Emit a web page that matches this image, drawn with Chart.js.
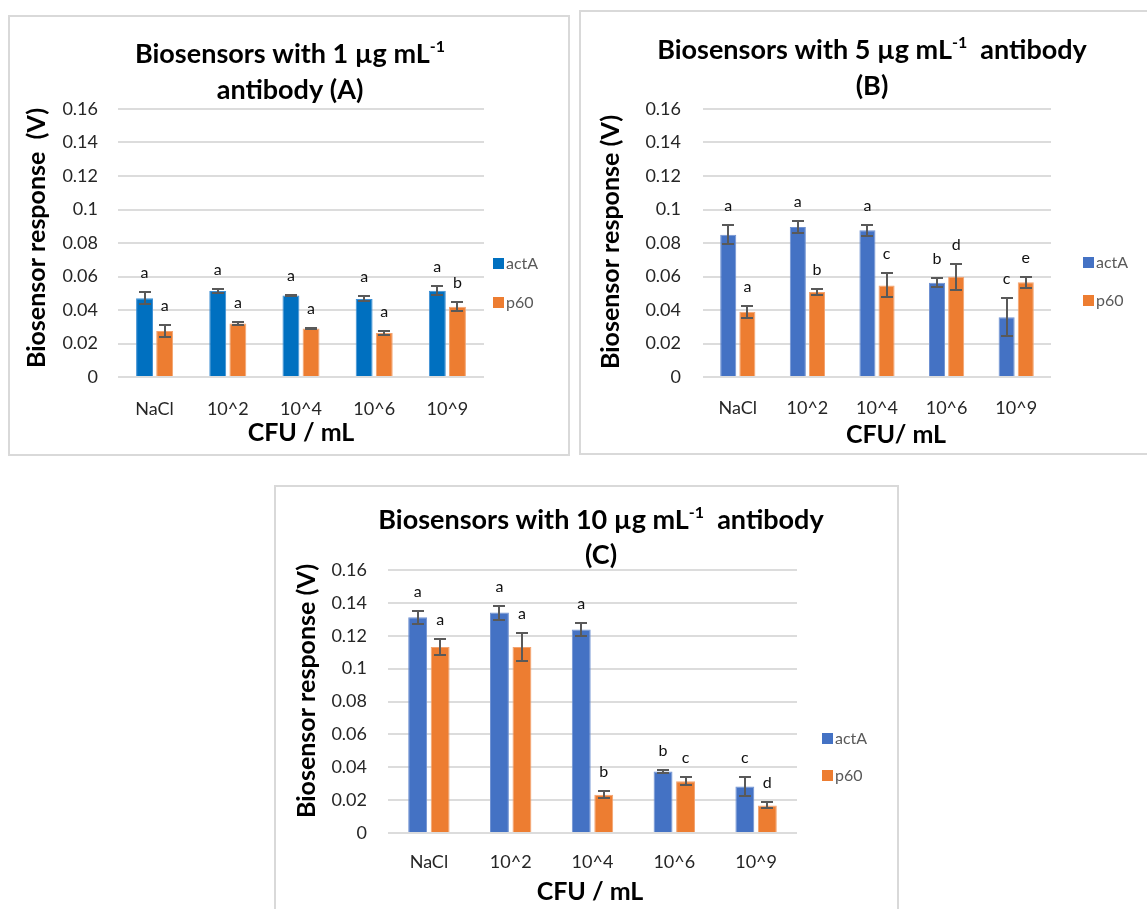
<!DOCTYPE html>
<html><head><meta charset="utf-8">
<script src="https://cdn.jsdelivr.net/npm/chart.js@4.4.0/dist/chart.umd.min.js"></script>
<style>
html,body{margin:0;padding:0;background:#fff;width:1147px;height:909px;overflow:hidden;position:relative}
.box{position:absolute;border:2px solid #d9d9d9;box-sizing:border-box}
canvas{position:absolute}
</style></head><body>
<div class="box" style="left:8px;top:15px;width:562px;height:441px"></div>
<div class="box" style="left:579px;top:10px;width:620px;height:445px"></div>
<div class="box" style="left:274px;top:485px;width:625px;height:440px"></div>
<canvas id="cA" width="558" height="437" style="left:10px;top:17px"></canvas>
<canvas id="cB" width="566" height="442" style="left:581px;top:12px"></canvas>
<canvas id="cC" width="622" height="422" style="left:276px;top:487px"></canvas>
<script>
// ---- data ----
const categories = ['NaCl', '10^2', '10^4', '10^6', '10^9'];
const yTickLabels = ['0', '0.02', '0.04', '0.06', '0.08', '0.1', '0.12', '0.14', '0.16'];
const seriesNames = ['actA', 'p60'];

// (A) 1 µg/mL antibody
const actA_1 = [0.047, 0.0513, 0.0486, 0.0466, 0.0515];
const actA_1_err = [0.0035, 0.001, 0.0005, 0.0015, 0.0027];
const p60_1 = [0.0275, 0.032, 0.029, 0.0263, 0.042];
const p60_1_err = [0.0035, 0.001, 0.0004, 0.0014, 0.0028];
const actA_1_letters = ['a', 'a', 'a', 'a', 'a'];
const p60_1_letters = ['a', 'a', 'a', 'a', 'b'];

// (B) 5 µg/mL antibody
const actA_5 = [0.085, 0.0896, 0.0876, 0.0563, 0.0357];
const actA_5_err = [0.0057, 0.0035, 0.0033, 0.0026, 0.0113];
const p60_5 = [0.0389, 0.0507, 0.0547, 0.0599, 0.0565];
const p60_5_err = [0.0035, 0.002, 0.0072, 0.0077, 0.0035];
const actA_5_letters = ['a', 'a', 'a', 'b', 'c'];
const p60_5_letters = ['a', 'b', 'c', 'd', 'e'];

// (C) 10 µg/mL antibody
const actA_10 = [0.1313, 0.1341, 0.1238, 0.0374, 0.0283];
const actA_10_err = [0.004, 0.0043, 0.004, 0.0012, 0.006];
const p60_10 = [0.1131, 0.1131, 0.0232, 0.0315, 0.0168];
const p60_10_err = [0.0047, 0.0085, 0.0021, 0.0023, 0.0018];
const actA_10_letters = ['a', 'a', 'a', 'b', 'c'];
const p60_10_letters = ['a', 'a', 'b', 'c', 'd'];

// ---- rendering ----
const FONT = 'Lato, "Open Sans", sans-serif';
Chart.defaults.font.family = FONT;

const decor = {
  id: 'decor',
  afterDatasetsDraw(chart) {
    const ctx = chart.ctx, y = chart.scales.y;
    chart.data.datasets.forEach((ds, di) => {
      const meta = chart.getDatasetMeta(di);
      meta.data.forEach((bar, i) => {
        const v = ds.data[i], e = ds.errors[i];
        const top = Math.round(y.getPixelForValue(v + e)), bot = Math.round(y.getPixelForValue(v - e));
        const x = Math.round(bar.x);
        ctx.save();
        ctx.strokeStyle = '#595959'; ctx.lineWidth = 2;
        ctx.beginPath();
        ctx.moveTo(x, top); ctx.lineTo(x, bot);
        ctx.moveTo(x - 6, top); ctx.lineTo(x + 6, top);
        ctx.moveTo(x - 6, bot); ctx.lineTo(x + 6, bot);
        ctx.stroke();
        ctx.fillStyle = '#111'; ctx.font = '16px ' + FONT;
        ctx.textAlign = 'center'; ctx.textBaseline = 'middle';
        ctx.fillText(ds.letters[i], bar.x, top - 19);
        ctx.restore();
      });
    });
  },
  afterDraw(chart) {
    const o = chart.options.plugins.decor, ctx = chart.ctx;
    ctx.save();
    ctx.fillStyle = '#000';
    // title line 1 with superscript
    const big = 'bold ' + o.titleSize + 'px ' + FONT, small = 'bold ' + Math.round(o.titleSize * 0.6) + 'px ' + FONT;
    let total = 0;
    o.title1.forEach(p => { ctx.font = p.sup ? small : big; total += ctx.measureText(p.t).width; });
    let x = o.titleX - total / 2;
    ctx.textAlign = 'left'; ctx.textBaseline = 'alphabetic';
    o.title1.forEach(p => {
      ctx.font = p.sup ? small : big;
      ctx.fillText(p.t, x, o.title1Y - (p.sup ? o.titleSize * 0.4 : 0));
      x += ctx.measureText(p.t).width;
    });
    ctx.font = big; ctx.textAlign = 'center';
    ctx.fillText(o.title2, o.titleX, o.title2Y);
    // axis titles
    ctx.font = 'bold ' + o.axisSize + 'px ' + FONT;
    ctx.textBaseline = 'middle';
    ctx.fillText(o.xTitle, o.xTitlePos[0], o.xTitlePos[1]);
    ctx.save();
    ctx.translate(o.yTitlePos[0], o.yTitlePos[1]);
    ctx.rotate(-Math.PI / 2);
    ctx.fillText(o.yTitle, 0, 0);
    ctx.restore();
    // legend
    ctx.font = '16px ' + FONT; ctx.textAlign = 'left';
    chart.data.datasets.forEach((ds, i) => {
      const [lx, ly] = o.legendPos[i];
      ctx.fillStyle = ds.backgroundColor;
      ctx.fillRect(lx, ly, 11, 11);
      ctx.fillStyle = '#595959';
      ctx.fillText(ds.label, lx + 13, ly + 6);
    });
    ctx.restore();
  }
};

function makeChart(id, blue, blueEdge, a, aErr, aLet, p, pErr, pLet, lay, deco) {
  return new Chart(document.getElementById(id), {
    type: 'bar',
    data: {
      labels: categories,
      datasets: [
        { label: seriesNames[0], data: a, errors: aErr, letters: aLet, backgroundColor: blue, borderColor: blueEdge, borderWidth: 1,
          categoryPercentage: 0.55, barPercentage: 0.84 },
        { label: seriesNames[1], data: p, errors: pErr, letters: pLet, backgroundColor: '#ED7D31', borderColor: '#F3A36F', borderWidth: 1,
          categoryPercentage: 0.55, barPercentage: 0.84 }
      ]
    },
    options: {
      responsive: false, animation: false, devicePixelRatio: 1,
      layout: { padding: { top: lay.top, left: 0, right: lay.right, bottom: 0 } },
      plugins: { legend: { display: false }, tooltip: { enabled: false }, decor: deco },
      scales: {
        x: {
          grid: { display: false }, border: { display: false },
          ticks: { color: '#262626', font: { size: 18 }, padding: lay.xPad, maxRotation: 0 },
          afterFit(s) { s.height = lay.xH; }
        },
        y: {
          min: 0, max: 0.16,
          afterBuildTicks(s) { s.ticks = yTickLabels.map(t => ({ value: parseFloat(t) })); },
          ticks: { color: '#262626', font: { size: 18 }, padding: lay.yPad, callback: (v, i) => yTickLabels[i] },
          grid: { color: '#dcdcdc', lineWidth: 2, drawTicks: false },
          border: { display: false },
          afterFit(s) { s.width = lay.yW; }
        }
      }
    },
    plugins: [decor]
  });
}

makeChart('cA', '#0070C0', '#3D8FD3', actA_1, actA_1_err, actA_1_letters, p60_1, p60_1_err, p60_1_letters,
  { top: 92, right: 84, yW: 108, xH: 77, yPad: 20, xPad: 13 },
  { titleSize: 27, title1: [{ t: 'Biosensors with 1 µg mL' }, { t: '-1', sup: true }], title2: 'antibody (A)',
    titleX: 280, title1Y: 46, title2Y: 82, axisSize: 25,
    xTitle: 'CFU / mL', xTitlePos: [291, 416], yTitle: 'Biosensor response  (V)', yTitlePos: [27, 221],
    legendPos: [[483, 241], [483, 280]] });

makeChart('cB', '#4472C4', '#7092D2', actA_5, actA_5_err, actA_5_letters, p60_5, p60_5_err, p60_5_letters,
  { top: 97, right: 96, yW: 122, xH: 77, yPad: 22, xPad: 12 },
  { titleSize: 27, title1: [{ t: 'Biosensors with 5 µg mL' }, { t: '-1', sup: true }, { t: '  antibody' }], title2: '(B)',
    titleX: 291, title1Y: 47, title2Y: 83, axisSize: 25,
    xTitle: 'CFU/ mL', xTitlePos: [315, 423], yTitle: 'Biosensor response (V)', yTitlePos: [30, 230],
    legendPos: [[502, 245], [502, 283]] });

makeChart('cC', '#4472C4', '#7092D2', actA_10, actA_10_err, actA_10_letters, p60_10, p60_10_err, p60_10_letters,
  { top: 83, right: 101, yW: 112, xH: 76, yPad: 21, xPad: 10 },
  { titleSize: 27, title1: [{ t: 'Biosensors with 10 µg mL' }, { t: '-1', sup: true }, { t: '  antibody' }], title2: '(C)',
    titleX: 325, title1Y: 42, title2Y: 77, axisSize: 25,
    xTitle: 'CFU / mL', xTitlePos: [314, 405], yTitle: 'Biosensor response (V)', yTitlePos: [31, 204],
    legendPos: [[546, 246], [546, 283]] });
</script>
</body></html>
